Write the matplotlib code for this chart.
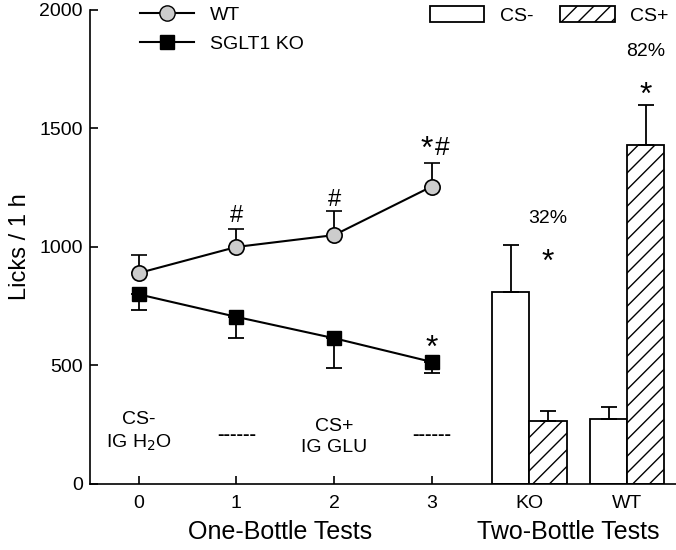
import matplotlib.pyplot as plt
from matplotlib.patches import Patch
from matplotlib.lines import Line2D

plt.rcParams['font.family'] = ['Liberation Sans', 'DejaVu Sans']
plt.rcParams['hatch.linewidth'] = 1.0

# one-bottle tests
days = [0, 1, 2, 3]
wt_mean = [890, 1000, 1050, 1255]
wt_sem = [75, 75, 100, 100]
ko_mean = [800, 705, 615, 515]
ko_sem = [65, 90, 125, 45]

# two-bottle tests
groups = ['KO', 'WT']
cs_minus = [810, 275]
cs_minus_sem = [200, 50]
cs_plus = [265, 1430]
cs_plus_sem = [45, 170]
pref = ['32%', '82%']

fig = plt.figure(figsize=(6.76, 5.5), dpi=100)
ax = fig.add_axes([0.133, 0.12, 0.867, 0.862])

# lines
ax.errorbar(days, wt_mean, yerr=[[0]*4, wt_sem], color='black', lw=1.5,
            marker='o', ms=11, mfc='#cccccc', mec='black', mew=1.2,
            capsize=6, elinewidth=1.3, capthick=1.3, zorder=3)
ax.errorbar(days, ko_mean, yerr=[ko_sem, [0]*4], color='black', lw=1.5,
            marker='s', ms=9.5, mfc='black', mec='black',
            capsize=6, elinewidth=1.3, capthick=1.3, zorder=3)

# bars
w = 0.38
bx = [4, 5]
ax.bar([x - w/2 for x in bx], cs_minus, w, color='white', edgecolor='black', lw=1.3,
       yerr=[[0, 0], cs_minus_sem], capsize=6, error_kw=dict(elinewidth=1.3, capthick=1.3))
ax.bar([x + w/2 for x in bx], cs_plus, w, color='white', edgecolor='black', lw=1.3,
       hatch='//', yerr=[[0, 0], cs_plus_sem], capsize=6,
       error_kw=dict(elinewidth=1.3, capthick=1.3))

# significance marks
ax.text(1, 1085, '#', ha='center', va='bottom', fontsize=17)
ax.text(2, 1150, '#', ha='center', va='bottom', fontsize=17)
ax.text(2.95, 1345, '*', ha='center', va='bottom', fontsize=23)
ax.text(3.11, 1365, '#', ha='center', va='bottom', fontsize=19)
ax.text(3, 505, '*', ha='center', va='bottom', fontsize=23)
for x, p, top in zip(bx, pref, [870, 1575]):
    ax.text(x + w/2, top, '*', ha='center', va='bottom', fontsize=23)
    ax.text(x + w/2, top + 215, p, ha='center', va='bottom', fontsize=14)

# condition labels
ax.text(0, 130, 'CS-\nIG H$_2$O', ha='center', va='bottom', fontsize=14, linespacing=1.3)
ax.text(2, 120, 'CS+\nIG GLU', ha='center', va='bottom', fontsize=14, linespacing=1.3)
ax.text(1, 205, '------', ha='center', va='center', fontsize=14, fontweight='bold')
ax.text(3, 205, '------', ha='center', va='center', fontsize=14, fontweight='bold')

ax.set_xlim(-0.5, 5.5)
ax.set_ylim(0, 2000)
ax.set_yticks([0, 500, 1000, 1500, 2000])
ax.set_xticks([0, 1, 2, 3, 4, 5])
ax.set_xticklabels(['0', '1', '2', '3', 'KO', 'WT'])
ax.tick_params(direction='in', labelsize=14, length=6, width=1.2)
ax.tick_params(axis='y', pad=5)
ax.tick_params(axis='x', pad=8)
for t in ax.xaxis.get_major_ticks()[4:]:
    t.tick1line.set_visible(False)
ax.spines['top'].set_visible(False)
ax.spines['right'].set_visible(False)
ax.spines['left'].set_linewidth(1.2)
ax.spines['bottom'].set_linewidth(1.2)
ax.set_ylabel('Licks / 1 h', fontsize=17, labelpad=6)
fig.text(0.415, 0.02, 'One-Bottle Tests', ha='center', fontsize=18)
fig.text(0.84, 0.02, 'Two-Bottle Tests', ha='center', fontsize=18)

h1 = [Line2D([], [], color='black', marker='o', ms=11, mfc='#cccccc', mec='black'),
      Line2D([], [], color='black', marker='s', ms=9.5, mfc='black')]
leg1 = ax.legend(h1, ['WT', 'SGLT1 KO'], loc='upper left', bbox_to_anchor=(0.055, 1.045),
                 frameon=False, fontsize=14, handlelength=2.8, labelspacing=0.6)
ax.add_artist(leg1)
h2 = [Patch(facecolor='white', edgecolor='black', lw=1.3),
      Patch(facecolor='white', edgecolor='black', lw=1.3, hatch='//')]
ax.legend(h2, ['CS-', 'CS+'], loc='upper left', bbox_to_anchor=(0.55, 1.045), ncol=2,
          frameon=False, fontsize=14, handlelength=2.8, handleheight=0.9, columnspacing=1.4)

fig.savefig('out.png', dpi=100)
